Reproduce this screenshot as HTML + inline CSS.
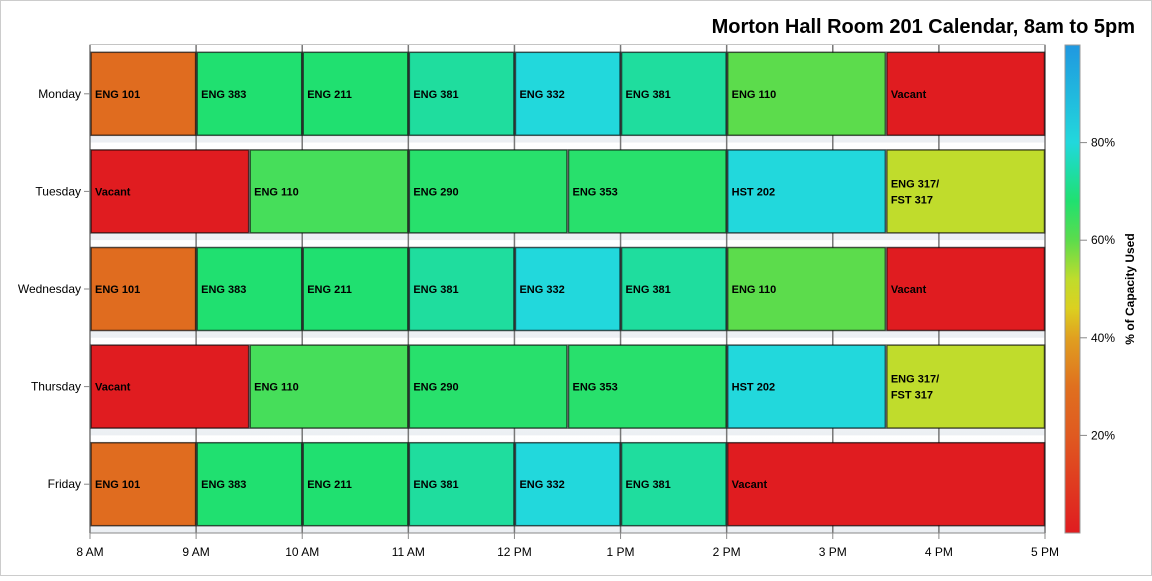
<!DOCTYPE html>
<html><head><meta charset="utf-8"><style>
body{margin:0;background:#fff;}
svg text{font-family:"Liberation Sans",Arial,sans-serif;}
</style></head><body>
<svg id="chart" width="1152" height="576" xmlns="http://www.w3.org/2000/svg">
<defs>
<linearGradient id="cbar" x1="0" y1="1" x2="0" y2="0">
<stop offset="0" stop-color="#e01c20"/><stop offset="0.2" stop-color="#e05a20"/><stop offset="0.3" stop-color="#e0701f"/><stop offset="0.4" stop-color="#e0a020"/><stop offset="0.46" stop-color="#dcd020"/><stop offset="0.52" stop-color="#c0dc2c"/><stop offset="0.6" stop-color="#5cdc4c"/><stop offset="0.68" stop-color="#20e070"/><stop offset="0.75" stop-color="#1edcb0"/><stop offset="0.8" stop-color="#22d8dc"/><stop offset="1" stop-color="#2098e0"/>
</linearGradient>
<linearGradient id="band" x1="0" y1="0" x2="0" y2="1"><stop offset="0" stop-color="#ffffff"/><stop offset="1" stop-color="#eceff3"/></linearGradient>
</defs>
<rect x="0.5" y="0.5" width="1151" height="575" fill="#fff" stroke="#ccc"/>
<text x="1135" y="33" text-anchor="end" font-size="20" font-weight="bold">Morton Hall Room 201 Calendar, 8am to 5pm</text>
<g id="plot"></g>
<rect x="1065" y="45" width="15" height="488" fill="url(#cbar)" stroke="#999"/>
<g id="cticks"></g>
<text transform="translate(1134,289) rotate(-90)" text-anchor="middle" font-size="12" font-weight="bold">% of Capacity Used</text>
</svg>
<script>
const days=["Monday","Tuesday","Wednesday","Thursday","Friday"];
const hourLabels=["8 AM","9 AM","10 AM","11 AM","12 PM","1 PM","2 PM","3 PM","4 PM","5 PM"];
const courses=[
[["ENG 101",8,9,28],["ENG 383",9,10,68],["ENG 211",10,11,68],["ENG 381",11,12,73],["ENG 332",12,13,80],["ENG 381",13,14,73],["ENG 110",14,15.5,60],["Vacant",15.5,17,0]],
[["Vacant",8,9.5,0],["ENG 110",9.5,11,63],["ENG 290",11,12.5,67],["ENG 353",12.5,14,67],["HST 202",14,15.5,80],["ENG 317/|FST 317",15.5,17,52]],
[["ENG 101",8,9,28],["ENG 383",9,10,68],["ENG 211",10,11,68],["ENG 381",11,12,73],["ENG 332",12,13,80],["ENG 381",13,14,73],["ENG 110",14,15.5,60],["Vacant",15.5,17,0]],
[["Vacant",8,9.5,0],["ENG 110",9.5,11,63],["ENG 290",11,12.5,67],["ENG 353",12.5,14,67],["HST 202",14,15.5,80],["ENG 317/|FST 317",15.5,17,52]],
[["ENG 101",8,9,28],["ENG 383",9,10,68],["ENG 211",10,11,68],["ENG 381",11,12,73],["ENG 332",12,13,80],["ENG 381",13,14,73],["Vacant",14,17,0]]
];
const capTicks=[20,40,60,80];
const L=90,R=1045,T=45,B=533;
const xS=h=>L+(h-8)/9*(R-L);
const rowH=(B-T)/5;
const yC=i=>T+rowH*(i+0.5);
const cS=p=>B-p/100*(B-T);
const stops=[[0,"#e01c20"],[20,"#e05a20"],[30,"#e0701f"],[40,"#e0a020"],[46,"#dcd020"],[52,"#c0dc2c"],[60,"#5cdc4c"],[68,"#20e070"],[75,"#1edcb0"],[80,"#22d8dc"],[100,"#2098e0"]];
function col(p){for(let i=1;i<stops.length;i++){if(p<=stops[i][0]){const a=stops[i-1],b=stops[i],t=(p-a[0])/(b[0]-a[0]);const h=s=>[1,3,5].map(k=>parseInt(s.substr(k,2),16));const ca=h(a[1]),cb=h(b[1]);return"rgb("+ca.map((v,k)=>Math.round(v+(cb[k]-v)*t)).join(",")+")";}}return stops[stops.length-1][1];}
const NS="http://www.w3.org/2000/svg";
function mk(tag,at,parent){const e=document.createElementNS(NS,tag);for(const k in at)e.setAttribute(k,at[k]);parent.appendChild(e);return e;}
const g=document.getElementById("plot");
let bg=mk("rect",{x:L,y:T,width:R-L,height:B-T,fill:"url(#band)",stroke:"#888"},g);


for(let i=0;i<5;i++){let b=mk("rect",{x:L,y:T+rowH*i,width:R-L,height:rowH,fill:"url(#band)"},g);

}
for(let h=8;h<=17;h++){const x=xS(h);
let gl=mk("line",{x1:x,y1:T,x2:x,y2:B,stroke:"#777","stroke-width":1.5},g);


mk("line",{x1:x,y1:B,x2:x,y2:B+6,stroke:"#888"},g);
let t=mk("text",{x:x,y:556,"text-anchor":"middle","font-size":12},g);t.textContent=hourLabels[h-8];

}
mk("line",{x1:L,y1:B,x2:R,y2:B,stroke:"#888"},g);
days.forEach((d,i)=>{const y=yC(i);
mk("line",{x1:L-6,y1:y,x2:L,y2:y,stroke:"#888"},g);
let t=mk("text",{x:L-9,y:y+4,"text-anchor":"end","font-size":12},g);t.textContent=d;


courses[i].forEach(c=>{const x0=xS(c[1]),x1=xS(c[2]);
let r=mk("rect",{x:x0+1,y:y-41.5,width:x1-x0-1.5,height:83,fill:col(c[3]),stroke:"rgba(0,0,0,0.65)","stroke-width":1.5},g);


const lines=c[0].split("|");
lines.forEach((ln,k)=>{let tt=mk("text",{x:x0+5,y:y+4+(k-(lines.length-1)/2)*16,"font-size":11,"font-weight":"bold"},g);tt.textContent=ln;

});
});});
const ct=document.getElementById("cticks");
capTicks.forEach(p=>{const y=cS(p);
mk("line",{x1:1080,y1:y,x2:1087,y2:y,stroke:"#888"},ct);
let t=mk("text",{x:1091,y:y+4,"font-size":12},ct);t.textContent=p+"%";

});
</script>
</body></html>
